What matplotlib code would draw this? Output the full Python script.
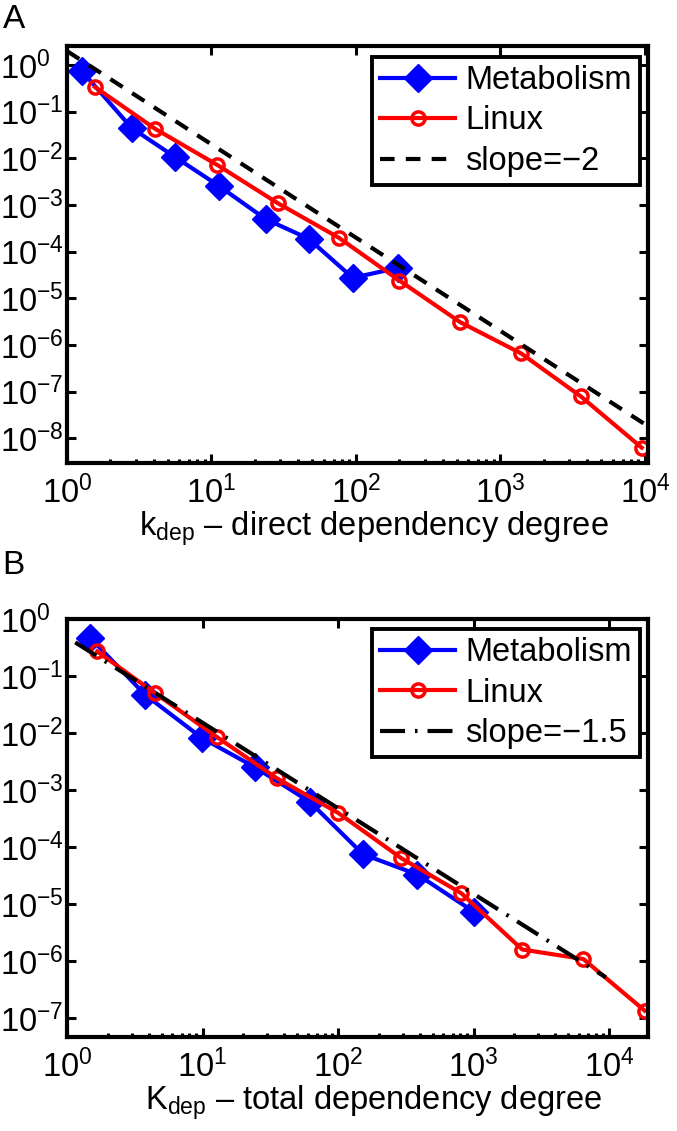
import matplotlib
matplotlib.use("Agg")
import matplotlib.pyplot as plt
from matplotlib.ticker import FixedLocator, NullLocator, LogLocator, LogFormatterSciNotation

plt.rcParams['font.family'] = ['Liberation Sans', 'DejaVu Sans']
plt.rcParams['mathtext.fontset'] = 'custom'
plt.rcParams['mathtext.rm'] = 'Liberation Sans'
plt.rcParams['mathtext.it'] = 'Liberation Sans:italic'
plt.rcParams['mathtext.bf'] = 'Liberation Sans:bold'
plt.rcParams['mathtext.default'] = 'regular'

# panel A: direct dependency degree
meta_a_k = [1.27, 2.8, 5.6, 11.2, 23.7, 47, 95, 195]
meta_a_p = [0.74, 0.045, 0.0107, 0.0026, 5.0e-4, 1.9e-4, 2.75e-5, 4.5e-5]
linux_a_k = [1.56, 4.08, 11.0, 28.7, 76, 200, 525, 1390, 3600, 9500]
linux_a_p = [0.34, 0.043, 0.0072, 1.1e-3, 2.0e-4, 2.4e-5, 3.1e-6, 6.6e-7, 7.9e-8, 6.3e-9]
slope_a = -2.0
coef_a = 2.0
range_a = [1.0, 1.0e4]

# panel B: total dependency degree
meta_b_k = [1.48, 3.77, 9.9, 24.5, 62, 153, 386, 1000]
meta_b_p = [0.47, 0.047, 0.0082, 0.0025, 6.2e-4, 7.5e-5, 3.3e-5, 7.4e-6]
linux_b_k = [1.67, 4.47, 12.8, 35.5, 100, 293, 813, 2290, 6470, 18300]
linux_b_p = [0.27, 0.05, 0.0085, 1.6e-3, 4.0e-4, 6.4e-5, 1.55e-5, 1.6e-6, 1.09e-6, 1.36e-7]
slope_b = -1.5
coef_b = 0.48
range_b = [1.15, 9500.0]

FS = 23.5


def estilo(ax, xlim, ylim, yexp):
    ax.set_xscale('log')
    ax.set_yscale('log')
    ax.set_xlim(xlim)
    ax.set_ylim(ylim)
    ax.xaxis.set_major_locator(FixedLocator([1, 10, 100, 1e3, 1e4]))
    ax.xaxis.set_minor_locator(LogLocator(base=10, subs=range(2, 10), numticks=30))
    ax.yaxis.set_major_locator(FixedLocator([10.0 ** e for e in yexp]))
    ax.yaxis.set_minor_locator(NullLocator())
    ax.xaxis.set_major_formatter(LogFormatterSciNotation())
    ax.yaxis.set_major_formatter(LogFormatterSciNotation())
    ax.tick_params(which='both', direction='in', top=True, right=True,
                   width=2.2, labelsize=FS)
    ax.tick_params(which='major', length=6.5)
    ax.tick_params(which='minor', length=3, top=False)
    ax.tick_params(axis='y', pad=48)
    ax.tick_params(axis='x', pad=9)
    for s in ax.spines.values():
        s.set_linewidth(3.0)
    for t in ax.yaxis.get_major_ticks():
        t.label1.set_horizontalalignment('left')


def desenhar(ax, mk, mp, lk, lp, rng, coef, slope, ls, rotulo, topo):
    ax.plot(mk, mp, '-', color='b', lw=3.0, marker='D', ms=14,
            mfc='b', mec='b', label='Metabolism')
    ax.plot(lk, lp, '-', color='r', lw=3.0, marker='o', ms=9.5,
            mfc='none', mec='r', mew=2.5, label='Linux')
    ref = [coef * k ** slope for k in rng]
    ax.plot(rng, ref, color='k', lw=3.0, ls=ls, label=rotulo)
    leg = ax.legend(loc='upper right', bbox_to_anchor=(0.986, topo),
                    borderaxespad=0, fontsize=FS, frameon=True, fancybox=False,
                    edgecolor='k', framealpha=1, handlelength=2.3,
                    handletextpad=0.3, labelspacing=0.29, borderpad=0.25)
    leg.get_frame().set_linewidth(2.8)


fig = plt.figure(figsize=(6.77, 11.31), dpi=100)
ax_a = fig.add_axes([67 / 677, 1 - 463 / 1131, 581 / 677, 417 / 1131])
ax_b = fig.add_axes([67 / 677, 1 - 1037 / 1131, 581 / 677, 418 / 1131])

desenhar(ax_a, meta_a_k, meta_a_p, linux_a_k, linux_a_p, range_a, coef_a, slope_a,
         (0, (3.5, 2.7)), 'slope=\u22122', 0.974)
estilo(ax_a, (1, 1.05e4), (10 ** -8.53, 10 ** 0.41), range(-8, 1))
ax_a.set_xlabel(r'k$_{dep}$ – direct dependency degree', fontsize=FS)
ax_a.xaxis.set_label_coords(0.528, -0.112)

desenhar(ax_b, meta_b_k, meta_b_p, linux_b_k, linux_b_p, range_b, coef_b, slope_b,
         (0, (6.0, 2.4, 0.6, 2.4)), 'slope=\u22121.5', 0.976)
estilo(ax_b, (1, 1.94e4), (10 ** -7.33, 1.0), range(-7, 1))
ax_b.set_xlabel(r'K$_{dep}$ – total dependency degree', fontsize=FS)
ax_b.xaxis.set_label_coords(0.528, -0.112)

fig.text(3 / 677, 1 - 20 / 1131, 'A', fontsize=24, ha='left', va='center')
fig.text(2 / 677, 1 - 565 / 1131, 'B', fontsize=24, ha='left', va='center')

fig.savefig('out.png', dpi=100)
plt.close(fig)
